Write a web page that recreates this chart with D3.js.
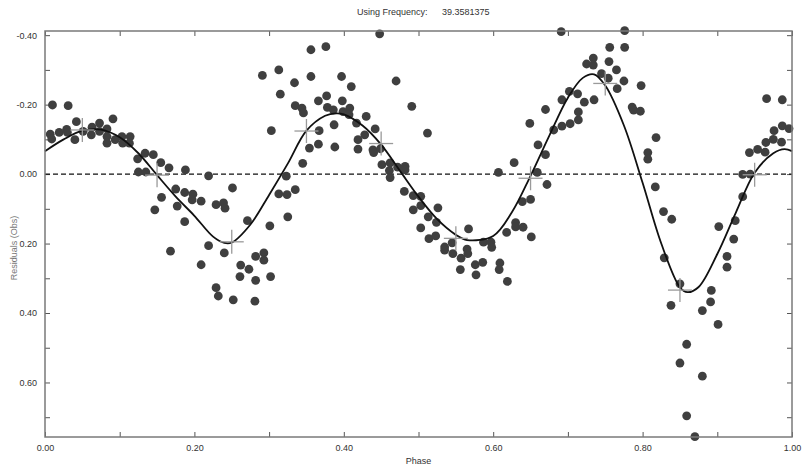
<!DOCTYPE html>
<html>
<head>
<meta charset="utf-8">
<script src="https://cdn.jsdelivr.net/npm/d3@7"></script>
<style>
  body { margin: 0; background: #fff; }
  text { font-family: "Liberation Sans", Arial, sans-serif; }
</style>
</head>
<body>
<script>
// observed residuals: [phase, residual]
const points = [
  [0.010,-0.199],[0.031,-0.197],[0.042,-0.151],[0.091,-0.159],[0.007,-0.115],[0.009,-0.101],
  [0.019,-0.120],[0.029,-0.129],[0.030,-0.120],[0.040,-0.099],[0.051,-0.123],[0.063,-0.135],
  [0.062,-0.113],[0.073,-0.147],[0.073,-0.123],[0.083,-0.130],[0.083,-0.108],[0.083,-0.089],
  [0.094,-0.099],[0.103,-0.108],[0.104,-0.089],[0.114,-0.108],[0.113,-0.089],[0.124,-0.044],
  [0.134,-0.060],[0.145,-0.056],[0.125,-0.006],[0.135,-0.006],[0.147,0.103],[0.155,-0.033],
  [0.166,-0.018],[0.156,0.067],[0.175,0.043],[0.177,0.092],[0.188,-0.012],[0.187,0.053],
  [0.187,0.137],[0.198,0.058],[0.197,0.074],[0.209,0.078],[0.168,0.222],[0.219,0.005],
  [0.219,0.206],[0.229,0.088],[0.239,0.083],[0.241,0.098],[0.251,0.040],[0.240,0.227],
  [0.209,0.261],[0.229,0.327],[0.232,0.351],[0.252,0.362],[0.262,0.262],[0.261,0.295],
  [0.273,0.274],[0.282,0.237],[0.293,0.227],[0.293,0.248],[0.282,0.306],[0.281,0.366],
  [0.302,0.295],[0.271,0.134],[0.301,0.149],[0.313,0.057],[0.324,0.059],[0.325,0.123],
  [0.323,0.006],[0.335,0.045],[0.291,-0.284],[0.313,-0.300],[0.315,-0.230],[0.334,-0.263],
  [0.335,-0.197],[0.303,-0.125],[0.345,-0.031],[0.354,-0.075],[0.344,-0.190],[0.346,-0.176],
  [0.356,-0.281],[0.356,-0.358],[0.376,-0.367],[0.397,-0.281],[0.410,-0.252],[0.470,-0.268],
  [0.366,-0.211],[0.377,-0.225],[0.378,-0.192],[0.386,-0.185],[0.398,-0.211],[0.399,-0.180],
  [0.408,-0.190],[0.407,-0.171],[0.430,-0.166],[0.491,-0.195],[0.387,-0.142],[0.417,-0.147],
  [0.367,-0.125],[0.428,-0.113],[0.442,-0.130],[0.419,-0.099],[0.366,-0.086],[0.388,-0.078],
  [0.419,-0.072],[0.439,-0.070],[0.440,-0.062],[0.449,-0.073],[0.512,-0.118],[0.451,-0.027],
  [0.462,-0.032],[0.461,-0.010],[0.472,-0.020],[0.482,-0.022],[0.482,-0.012],[0.462,0.010],
  [0.448,-0.404],[0.481,0.050],[0.493,0.062],[0.503,0.064],[0.493,0.103],[0.503,0.091],
  [0.526,0.097],[0.513,0.123],[0.524,0.139],[0.503,0.155],[0.514,0.186],[0.523,0.178],
  [0.535,0.210],[0.535,0.219],[0.545,0.198],[0.546,0.229],[0.557,0.242],[0.567,0.158],
  [0.565,0.216],[0.566,0.229],[0.556,0.275],[0.576,0.261],[0.586,0.254],[0.577,0.290],
  [0.587,0.196],[0.597,0.196],[0.598,0.211],[0.618,0.168],[0.609,0.256],[0.608,0.275],
  [0.619,0.309],[0.630,0.140],[0.630,0.152],[0.640,0.153],[0.651,0.181],[0.639,0.079],
  [0.650,0.073],[0.607,-0.005],[0.628,-0.033],[0.660,-0.084],[0.670,-0.056],[0.659,-0.005],
  [0.672,0.030],[0.649,-0.146],[0.670,-0.186],[0.681,-0.127],[0.692,-0.138],[0.703,-0.145],
  [0.714,-0.156],[0.714,-0.179],[0.692,-0.214],[0.702,-0.238],[0.713,-0.231],[0.722,-0.207],
  [0.735,-0.214],[0.691,-0.410],[0.725,-0.317],[0.734,-0.334],[0.734,-0.314],[0.756,-0.365],
  [0.776,-0.413],[0.776,-0.365],[0.755,-0.324],[0.765,-0.300],[0.745,-0.289],[0.754,-0.276],
  [0.775,-0.268],[0.766,-0.246],[0.798,-0.255],[0.786,-0.193],[0.788,-0.184],[0.797,-0.181],
  [0.818,-0.105],[0.807,-0.062],[0.807,-0.043],[0.817,0.037],[0.828,0.108],[0.839,0.130],
  [0.829,0.241],[0.850,0.316],[0.838,0.378],[0.859,0.490],[0.850,0.544],[0.859,0.696],
  [0.870,0.756],[0.880,0.582],[0.880,0.393],[0.891,0.368],[0.892,0.335],[0.901,0.433],
  [0.902,0.151],[0.913,0.237],[0.913,0.268],[0.922,0.187],[0.924,0.134],[0.934,0.065],
  [0.934,0.001],[0.944,0.000],[0.943,-0.062],[0.954,-0.071],[0.964,-0.063],[0.966,-0.217],
  [0.987,-0.214],[0.965,-0.091],[0.975,-0.100],[0.986,-0.092],[0.976,-0.125],[0.987,-0.139],
  [0.996,-0.131]
]

// fitted curve
const fitPhase = [0, 0.025, 0.05, 0.075, 0.1, 0.125, 0.15, 0.175, 0.2, 0.225, 0.24, 0.25, 0.275,
  0.3, 0.325, 0.35, 0.375, 0.39, 0.4, 0.425, 0.45, 0.475, 0.5, 0.525, 0.55, 0.565, 0.6, 0.625,
  0.65, 0.675, 0.7, 0.72, 0.735, 0.75, 0.775, 0.8, 0.825, 0.85, 0.86, 0.875, 0.9, 0.925, 0.95,
  0.975, 0.99, 1]
const fitValue = [-0.066, -0.100, -0.125, -0.128, -0.106, -0.060, 0.003, 0.065, 0.120, 0.180,
  0.198, 0.197, 0.145, 0.060, -0.030, -0.125, -0.168, -0.175, -0.172, -0.140, -0.085, -0.010,
  0.065, 0.130, 0.175, 0.190, 0.178, 0.110, 0.005, -0.110, -0.220, -0.277, -0.287, -0.255,
  -0.140, 0.025, 0.200, 0.326, 0.340, 0.325, 0.230, 0.110, -0.004, -0.060, -0.072, -0.066]

// binned means (crosses)
const binPhase = [0.05, 0.15, 0.25, 0.35, 0.45, 0.55, 0.65, 0.75, 0.85, 0.95]
const binValue = [-0.127, 0.003, 0.195, -0.124, -0.088, 0.185, 0.012, -0.261, 0.334, 0.002]

const xMajor = [0, 0.2, 0.4, 0.6, 0.8, 1.0]
const xMinor = [0.1, 0.3, 0.5, 0.7, 0.9]
const yMajor = [-0.4, -0.2, 0, 0.2, 0.4, 0.6]
const yMinor = [-0.3, -0.1, 0.1, 0.3, 0.5, 0.7]

const width = 805, height = 467
const margin = {top: 31, right: 13, bottom: 30, left: 45}

const svg = d3.select("body").append("svg")
    .attr("width", width).attr("height", height)

const x = d3.scaleLinear().domain([0, 1]).range([margin.left, width - margin.right])
const y = d3.scaleLinear().domain([-0.412, 0.757]).range([margin.top, height - margin.bottom])

const fmt = v => (Math.abs(v) < 1e-9 ? 0 : v).toFixed(2)

// ticks on all four sides, pointing inwards
function tickAxis(axisFn, scale, major, minor, transform, labels) {
    const a = svg.append("g").attr("transform", transform)
        .call(axisFn(scale).tickValues(major).tickSize(-5).tickPadding(labels ? 8 : 0)
            .tickFormat(labels ? fmt : ""))
    a.select(".domain").remove()
    a.selectAll("line").attr("stroke", "#555")
    a.selectAll("text").attr("fill", "#333").style("font-size", "9px")
    const b = svg.append("g").attr("transform", transform)
        .call(axisFn(scale).tickValues(minor).tickSize(-5).tickFormat(""))
    b.select(".domain").remove()
    b.selectAll("line").attr("stroke", "#555")
}
tickAxis(d3.axisBottom, x, xMajor, xMinor, `translate(0,${height - margin.bottom})`, true)
tickAxis(d3.axisTop, x, xMajor, xMinor, `translate(0,${margin.top})`, false)
tickAxis(d3.axisLeft, y, yMajor, yMinor, `translate(${margin.left},0)`, true)
tickAxis(d3.axisRight, y, yMajor, yMinor, `translate(${width - margin.right},0)`, false)

// zero line
svg.append("line")
    .attr("x1", x(0)).attr("x2", x(1)).attr("y1", y(0)).attr("y2", y(0))
    .attr("stroke", "#111").attr("stroke-width", 1.2).attr("stroke-dasharray", "5,3")

// dots
svg.append("g").selectAll("circle")
    .data(points).enter()
    .append("circle")
        .attr("cx", d => x(d[0]))
        .attr("cy", d => y(d[1]))
        .attr("r", 4.4)
        .attr("fill", "#3f3f3f")

// fitted curve
const line = d3.line()
    .x((d, i) => x(fitPhase[i]))
    .y(d => y(d))
    .curve(d3.curveCatmullRom)
svg.append("path")
    .datum(fitValue)
    .attr("d", line)
    .attr("fill", "none")
    .attr("stroke", "#111")
    .attr("stroke-width", 1.8)

// crosses for the bin means
const arm = 12
const crosses = svg.append("g").attr("stroke", "#9a9a9a").attr("stroke-width", 1.3)
binPhase.forEach((p, i) => {
    crosses.append("line")
        .attr("x1", x(p) - arm).attr("x2", x(p) + arm)
        .attr("y1", y(binValue[i])).attr("y2", y(binValue[i]))
    crosses.append("line")
        .attr("x1", x(p)).attr("x2", x(p))
        .attr("y1", y(binValue[i]) - arm).attr("y2", y(binValue[i]) + arm)
})

// frame
svg.append("rect")
    .attr("x", margin.left).attr("y", margin.top)
    .attr("width", width - margin.left - margin.right)
    .attr("height", height - margin.top - margin.bottom)
    .attr("fill", "none").attr("stroke", "#7a7a7a").attr("stroke-width", 1.5)

// titles
svg.append("text")
    .attr("x", 357).attr("y", 15)
    .attr("fill", "#333").style("font-size", "9px")
    .text("Using Frequency:")
svg.append("text")
    .attr("x", 442).attr("y", 15)
    .attr("fill", "#333").style("font-size", "9px")
    .text("39.3581375")
svg.append("text")
    .attr("x", (x(0) + x(1)) / 2).attr("y", 464)
    .attr("text-anchor", "middle")
    .attr("fill", "#333").style("font-size", "9px")
    .text("Phase")
svg.append("text")
    .attr("transform", `translate(17,${(y.range()[0] + y.range()[1]) / 2 + 14}) rotate(-90)`)
    .attr("text-anchor", "middle")
    .attr("fill", "#777").style("font-size", "9px")
    .text("Residuals (Obs)")
</script>
</body>
</html>
